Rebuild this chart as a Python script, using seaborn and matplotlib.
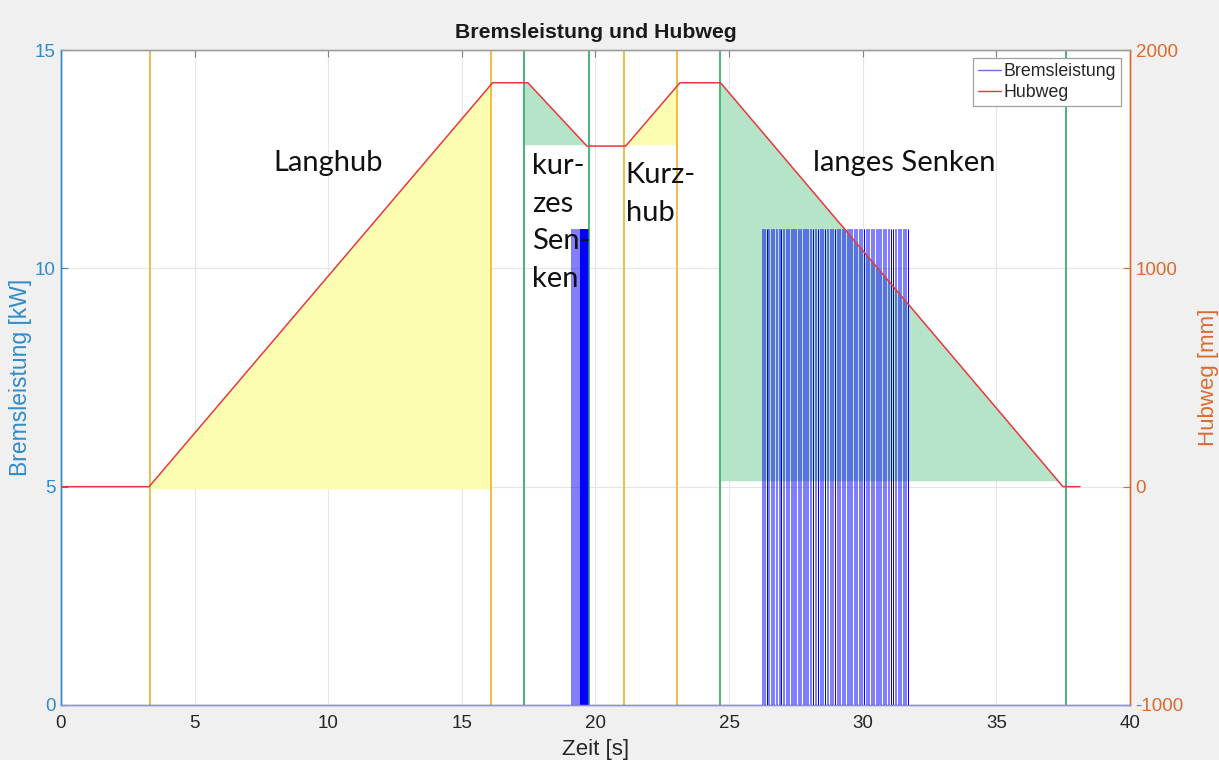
import numpy as np
import pandas as pd
import matplotlib
matplotlib.use("Agg")
import matplotlib.pyplot as plt
from matplotlib.lines import Line2D
import seaborn as sns

# --- Hubweg profile (s, mm) -------------------------------------------------
hub_t = [0.0, 3.30, 16.15, 17.47, 19.68, 21.13, 23.16, 24.68, 37.49, 38.13]
hub_mm = [0, 0, 1850, 1850, 1560, 1560, 1850, 1850, 0, 0]

# --- Bremsleistung: chopper pulses (start times in s) -----------------------
pulses_short = [19.10, 19.17, 19.24, 19.31, 19.38,
                19.43, 19.45, 19.47, 19.49, 19.51, 19.53, 19.55, 19.57,
                19.59, 19.61, 19.63, 19.65, 19.67, 19.69]
pulses_long = [26.22, 26.31, 26.40, 26.47, 26.58, 26.66, 26.75, 26.86,
               26.93, 27.02, 27.12, 27.20, 27.31, 27.39, 27.47, 27.58,
               27.66, 27.76, 27.84, 27.93, 28.04, 28.12, 28.21, 28.31,
               28.39, 28.49, 28.57, 28.66, 28.77, 28.85, 28.95, 29.03,
               29.12, 29.22, 29.30, 29.40, 29.48, 29.57, 29.68, 29.76,
               29.86, 29.94, 30.03, 30.13, 30.21, 30.31, 30.39, 30.49,
               30.58, 30.66, 30.76, 30.85, 30.94, 31.04, 31.12, 31.22,
               31.31, 31.40, 31.50, 31.58, 31.68]
pulse_width = 0.03
pulse_kw = 10.9

# --- phase boundaries (s) ----------------------------------------------------
yellow_marks = [3.33, 16.09, 21.07, 23.05]
green_marks = [17.32, 19.76, 24.66, 37.60]

# shaded phases: start, end, lower edge (mm), colour
phase_start = [3.33, 17.32, 21.07, 24.66]
phase_end = [16.09, 19.76, 23.05, 37.60]
phase_base = [-10, 1566, 1566, 27]
phase_kind = ["hub", "senken", "hub", "senken"]

# --- colours -----------------------------------------------------------------
C_LEFT = "#2f8ccc"
C_RIGHT = "#dc6a30"
C_YELLOW_LINE = "#edb934"
C_GREEN_LINE = "#3fae6c"
FILL = {"hub": "#fdfdb2", "senken": "#b6e4c9"}
C_BLUE = "#0000ff"
C_RED = "#e8383c"

sns.set_style("white")
plt.rcParams["font.family"] = ["Liberation Sans", "DejaVu Sans"]
plt.rcParams["axes.unicode_minus"] = False

fig = plt.figure(figsize=(12.19, 7.6), dpi=100, facecolor="#f0f0f0")
ax = fig.add_axes([0.050, 0.0724, 0.877, 0.8618])
ax2 = ax.twinx()
ax.set_facecolor("white")

# build the pulse trace
bt = [0.0]
bp = [0.0]
for s in pulses_short + pulses_long:
    bt += [s, s, s + pulse_width, s + pulse_width]
    bp += [0.0, pulse_kw, pulse_kw, 0.0]
bt.append(40.0)
bp.append(0.0)
brems = pd.DataFrame({"t": bt, "kW": bp})
hub = pd.DataFrame({"t": hub_t, "mm": hub_mm})

ax.set_xlim(0, 40)
ax.set_ylim(0, 15)
ax2.set_ylim(-1000, 2000)

# shaded phases (drawn on the kW axes, in mm coordinates)
for a, b, base, kind in zip(phase_start, phase_end, phase_base, phase_kind):
    ts = np.linspace(a, b, 400)
    hs = np.interp(ts, hub_t, hub_mm)
    ax.fill_between(ts, base, hs, where=hs >= base, interpolate=True,
                    color=FILL[kind], lw=0, zorder=1,
                    transform=ax2.transData)

for x in yellow_marks:
    ax.axvline(x, color=C_YELLOW_LINE, lw=1.3, zorder=2)
for x in green_marks:
    ax.axvline(x, color=C_GREEN_LINE, lw=1.3, zorder=2)

sns.lineplot(data=brems, x="t", y="kW", ax=ax, color=C_BLUE, lw=0.36,
             sort=False, estimator=None, zorder=3, clip_on=False)
sns.lineplot(data=hub, x="t", y="mm", ax=ax2, color=C_RED, lw=1.1,
             sort=False, estimator=None, zorder=3)

# axes styling
ax.grid(True, color="#e6e6e6", lw=0.8)
ax.set_axisbelow(True)
ax.set_xticks([0, 5, 10, 15, 20, 25, 30, 35, 40])
ax.set_yticks([0, 5, 10, 15])
ax2.set_yticks([-1000, 0, 1000, 2000])
ax.tick_params(axis="x", direction="in", length=5, colors="#808080",
               labelcolor="#262626", labelsize=13.5, pad=7, top=True,
               width=0.8)
ax.tick_params(axis="y", direction="in", length=5, colors=C_LEFT,
               labelsize=13.5, pad=4, width=0.8)
ax2.tick_params(axis="y", direction="in", length=5, colors=C_RIGHT,
                labelsize=13.5, pad=4, width=0.8)

for a_ in (ax, ax2):
    for sp in a_.spines.values():
        sp.set_linewidth(1.0)
    a_.spines["top"].set_color("#a0a0a0")
    a_.spines["bottom"].set_color("#9090d8")
    a_.spines["left"].set_color(C_LEFT)
    a_.spines["right"].set_color(C_RIGHT)

ax.set_xlabel("Zeit [s]", fontsize=16, color="#262626", labelpad=5)
ax.set_ylabel("Bremsleistung [kW]", fontsize=16.5, color=C_LEFT, labelpad=2)
ax2.set_ylabel("Hubweg [mm]", fontsize=16, color=C_RIGHT, labelpad=10)

fig.text(596 / 1219, 1 - 33 / 760, "Bremsleistung und Hubweg",
         ha="center", va="center", fontsize=15.3, fontweight="bold",
         color="#1a1a1a")

# phase annotations
tkw = dict(fontsize=21, family=["Lato", "DejaVu Sans"], color="#111111",
           ha="left", va="center", linespacing=1.55, zorder=5)
ax2.text(7.93, 1484, "Langhub", **tkw)
ax2.text(17.64, 1210, "kur-\nzes\nSen-\nken", **tkw)
ax2.text(21.13, 1340, "Kurz-\nhub", **tkw)
ax2.text(28.13, 1484, "langes Senken", **tkw)

handles = [Line2D([], [], color="#6a6af0", lw=1.0),
           Line2D([], [], color=C_RED, lw=1.0)]
leg = ax2.legend(handles, ["Bremsleistung", "Hubweg"], loc="upper right",
                 bbox_to_anchor=(0.992, 0.988), borderaxespad=0,
                 fontsize=12.8, frameon=True, fancybox=False, framealpha=1,
                 edgecolor="#a0a0a0", handlelength=1.3, handletextpad=0.15,
                 labelspacing=0.2, borderpad=0.3)
leg.get_frame().set_linewidth(0.9)
leg.set_zorder(10)

fig.savefig("out.png", dpi=100, facecolor=fig.get_facecolor())
